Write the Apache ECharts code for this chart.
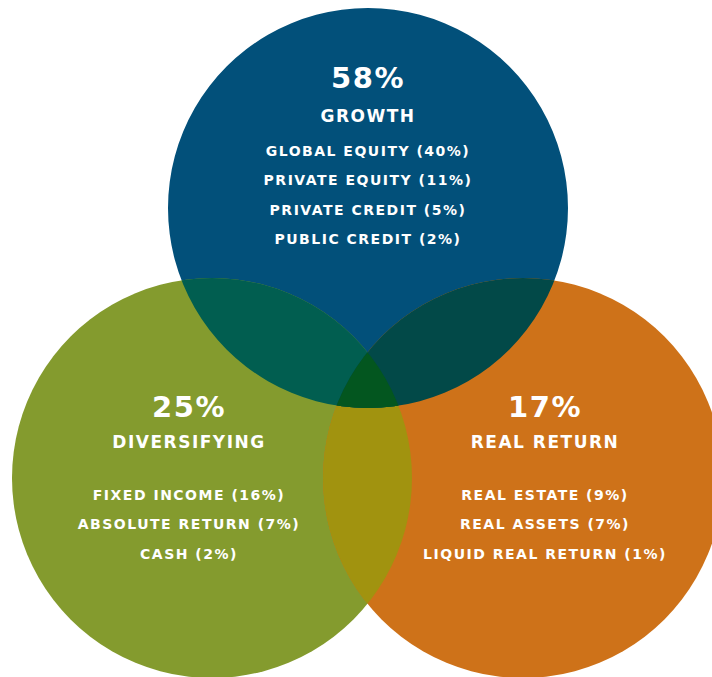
<!DOCTYPE html>
<html>
<head>
<meta charset="utf-8">
<script src="https://cdn.jsdelivr.net/npm/echarts@6/dist/echarts.min.js"></script>
<style>
html,body{margin:0;padding:0;background:#fff;}
#chart{width:712px;height:677px;}
#chart text{letter-spacing:1.5px;}
</style>
</head>
<body>
<div id="chart"></div>
<script>
// ---- data ----
const categories = ['GROWTH', 'DIVERSIFYING', 'REAL RETURN'];
const shares = [58, 25, 17];
const holdings = [
  ['GLOBAL EQUITY (40%)', 'PRIVATE EQUITY (11%)', 'PRIVATE CREDIT (5%)', 'PUBLIC CREDIT (2%)'],
  ['FIXED INCOME (16%)', 'ABSOLUTE RETURN (7%)', 'CASH (2%)'],
  ['REAL ESTATE (9%)', 'REAL ASSETS (7%)', 'LIQUID REAL RETURN (1%)']
];
// circle centres and radius in chart units
const centerX = [368, 212, 523];
const centerY = [208, 478, 478];
const radius = [200, 200, 200];

// ---- styles ----
const circleColors = ['#02507A', '#849B2E', '#CE7219'];
const overlapColors = { '0-1': '#015E50', '0-2': '#024948', '1-2': '#A1930F', '0-1-2': '#03561F' };
const FONT = 'DejaVu Sans';
const labelOffset = [[0, 0], [-23, -71], [22, -71]];

const chart = echarts.init(document.getElementById('chart'), null, { renderer: 'svg' });

function geom(api, i) {
  const p = api.coord([centerX[i], centerY[i]]);
  const r = api.size([radius[i], 0])[0];
  return { cx: p[0], cy: p[1], r: r };
}

const circleData = categories.map((c, i) => [centerX[i], centerY[i], radius[i], i]);

const overlapSets = [[1, 2], [0, 1], [0, 2], [0, 1, 2]];

const option = {
  animation: false,
  grid: { left: 0, right: 0, top: 0, bottom: 0 },
  xAxis: { type: 'value', min: 0, max: 712, show: false },
  yAxis: { type: 'value', min: 0, max: 677, inverse: true, show: false },
  series: [
    {
      type: 'custom',
      z: 1,
      data: circleData,
      renderItem: function (params, api) {
        const i = api.value(3);
        const g = geom(api, i);
        return { type: 'circle', shape: g, style: { fill: circleColors[i] } };
      }
    },
    {
      type: 'custom',
      z: 2,
      data: overlapSets.map((s, k) => [k]),
      renderItem: function (params, api) {
        const set = overlapSets[api.value(0)];
        const key = set.join('-');
        const last = set[set.length - 1];
        let el = { type: 'circle', shape: geom(api, last), style: { fill: overlapColors[key] } };
        for (let j = set.length - 2; j >= 0; j--) {
          const gg = geom(api, set[j]);
          el = { type: 'group', clipPath: { type: 'circle', shape: gg }, children: [el] };
        }
        return el;
      }
    },
    {
      type: 'custom',
      z: 3,
      data: circleData,
      renderItem: function (params, api) {
        const i = api.value(3);
        const g = geom(api, i);
        const x = g.cx + (i === 0 ? 0 : labelOffset[i][0]);
        const top = i === 0 ? g.cy - 130 : g.cy - 71;
        const children = [];
        children.push({ type: 'text', style: { text: shares[i] + '%', x: x, y: top, align: 'center', verticalAlign: 'middle', fill: '#fff', font: 'bold 29px ' + FONT } });
        children.push({ type: 'text', style: { text: categories[i], x: x, y: top + (i === 0 ? 38 : 35), align: 'center', verticalAlign: 'middle', fill: '#fff', font: 'bold 17px ' + FONT } });
        const start = i === 0 ? top + 73 : top + 88;
        holdings[i].forEach((h, k) => {
          children.push({ type: 'text', style: { text: h, x: x, y: start + k * 29.3, align: 'center', verticalAlign: 'middle', fill: '#fff', font: 'bold 14px ' + FONT } });
        });
        return { type: 'group', children: children };
      }
    }
  ]
};
chart.setOption(option);
</script>
</body>
</html>
